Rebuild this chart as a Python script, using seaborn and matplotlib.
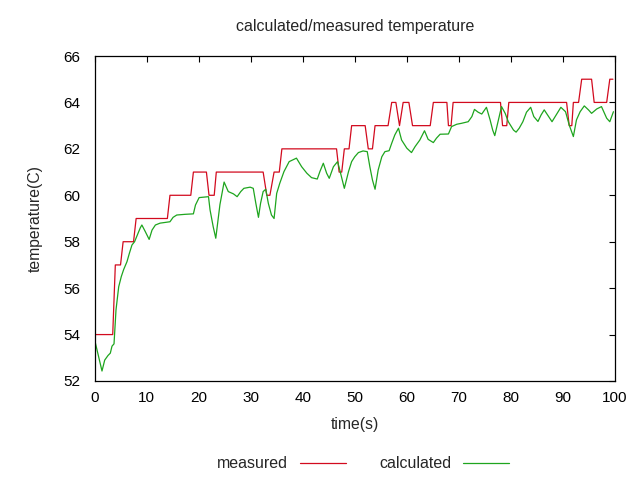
import matplotlib
matplotlib.use("Agg")
import matplotlib.pyplot as plt
import seaborn as sns
import pandas as pd
from matplotlib.lines import Line2D

# measured temperature (vertices of the stepped trace)
measured_time = [0, 3.5, 4.0, 5.0, 5.5, 7.5, 8.0, 14.0, 14.5, 18.5, 19.0, 21.5, 22.0, 23.0, 23.4,
                 32.4, 33.1, 33.7, 34.5, 35.5, 36.0, 46.5, 47.0, 47.5, 48.0, 48.9, 49.4, 52.0,
                 52.6, 53.4, 53.9, 56.4, 57.1, 57.9, 58.6, 59.3, 60.4, 61.1, 64.5, 65.1, 67.7,
                 68.0, 68.5, 68.9, 78.0, 78.4, 79.2, 79.6, 90.7, 91.2, 91.7, 92.0, 93.0, 93.6,
                 95.5, 96.0, 98.4, 99.0, 99.6]
measured_temp = [54, 54, 57, 57, 58, 58, 59, 59, 60, 60, 61, 61, 60, 60, 61,
                 61, 60, 60, 61, 61, 62, 62, 61, 61, 62, 62, 63, 63,
                 62, 62, 63, 63, 64, 64, 63, 64, 64, 63, 63, 64, 64,
                 63, 63, 64, 64, 63, 63, 64, 64, 63, 63, 64, 64, 65,
                 65, 64, 64, 65, 65]

# calculated temperature
calc_time = [0, 1.44, 1.96, 2.6, 3.04, 3.36, 3.75, 4.13, 4.65, 5.15, 5.6, 6.24, 6.7, 7.2, 7.7,
             8.36, 8.8, 9.1, 9.77, 10.5, 11.05, 11.7, 12.6, 14.5, 15.1, 15.8, 17.4, 19.0, 19.4,
             20.1, 21.9, 22.2, 22.8, 23.3, 24.1, 24.9, 25.7, 26.7, 27.4, 28.1, 28.7, 29.9, 30.5,
             31.0, 31.5, 31.9, 32.4, 32.9, 33.4, 34.0, 34.5, 35.0, 35.6, 36.4, 37.4, 38.8, 39.8,
             40.8, 41.7, 42.8, 43.3, 43.96, 44.6, 45.1, 45.9, 46.7, 47.2, 48.0, 48.8, 49.4, 50.0,
             50.7, 51.6, 52.4, 52.9, 53.4, 53.9, 54.5, 55.2, 55.8, 56.6, 57.1, 57.7, 58.4, 59.0,
             60.0, 60.9, 61.6, 62.5, 63.4, 64.1, 65.1, 65.7, 66.4, 68.0, 68.6, 69.6, 70.5, 71.8,
             72.5, 73.0, 73.7, 74.4, 75.3, 76.0, 76.5, 76.9, 77.6, 78.2, 78.9, 79.5, 80.5, 81.0,
             81.6, 82.3, 83.0, 83.8, 84.4, 85.2, 85.8, 86.4, 87.9, 89.6, 90.5, 91.2, 92.0, 92.6,
             93.3, 94.1, 94.9, 95.5, 96.5, 97.4, 98.4, 99.0, 99.7]
calc_temp = [53.8, 52.43, 52.9, 53.1, 53.2, 53.5, 53.6, 55.06, 56.06, 56.5, 56.8, 57.14, 57.5, 57.86, 58.0,
             58.36, 58.6, 58.72, 58.43, 58.1, 58.5, 58.72, 58.8, 58.86, 59.05, 59.15, 59.18, 59.2, 59.58,
             59.9, 59.94, 59.37, 58.65, 58.15, 59.6, 60.57, 60.16, 60.06, 59.94, 60.16, 60.3, 60.35, 60.3,
             59.65, 59.05, 59.65, 60.16, 60.26, 59.65, 59.15, 59.0, 60.08, 60.52, 61.02, 61.45, 61.6, 61.23,
             60.95, 60.76, 60.70, 61.02, 61.38, 60.95, 60.73, 61.23, 61.45, 61.02, 60.3, 61.02, 61.45, 61.66,
             61.84, 61.91, 61.88, 61.23, 60.66, 60.26, 61.09, 61.66, 61.88, 61.92, 62.24, 62.6, 62.89, 62.38,
             62.03, 61.84, 62.1, 62.38, 62.78, 62.41, 62.27, 62.46, 62.63, 62.64, 62.96, 63.06, 63.1, 63.17,
             63.39, 63.7, 63.58, 63.5, 63.79, 63.25, 62.81, 62.57, 63.25, 63.82, 63.53, 63.17, 62.81, 62.72,
             62.89, 63.17, 63.58, 63.79, 63.39, 63.18, 63.46, 63.68, 63.17, 63.79, 63.6, 63.03, 62.53, 63.25,
             63.6, 63.85, 63.68, 63.53, 63.72, 63.82, 63.32, 63.17, 63.6]

x_ticks = [0, 10, 20, 30, 40, 50, 60, 70, 80, 90, 100]
y_ticks = [52, 54, 56, 58, 60, 62, 64, 66]

title = "calculated/measured temperature"
x_label = "time(s)"
y_label = "temperature(C)"
series_names = ["measured", "calculated"]
colors = ["#d20a1e", "#1ea51e"]

sns.set_style("white")
plt.rcParams["font.family"] = ["Liberation Sans", "DejaVu Sans"]
plt.rcParams["font.size"] = 11

df_m = pd.DataFrame({"time": measured_time, "temp": measured_temp})
df_c = pd.DataFrame({"time": calc_time, "temp": calc_temp})

fig = plt.figure(figsize=(6.4, 4.8), dpi=100)
ax = fig.add_axes([94.5 / 640, 1 - 381 / 480, (615 - 94.5) / 640, (381 - 56) / 480])

sns.lineplot(data=df_m, x="time", y="temp", ax=ax, color=colors[0], lw=0.9,
             estimator=None, sort=False)
sns.lineplot(data=df_c, x="time", y="temp", ax=ax, color=colors[1], lw=0.9,
             estimator=None, sort=False)

ax.set_xlim(0, 100)
ax.set_ylim(52, 66)
ax.set_xticks(x_ticks)
ax.set_yticks(y_ticks)
ax.tick_params(direction="in", length=4, width=0.8, top=True, right=True,
               labelsize=11, colors="black")
ax.tick_params(axis="x", pad=7)
ax.tick_params(axis="y", pad=10)
for s in ax.spines.values():
    s.set_visible(True)
    s.set_color("black")
    s.set_linewidth(0.9)
ax.set_xlabel(x_label, fontsize=11.3, labelpad=9)
ax.set_ylabel(y_label, fontsize=11.3, labelpad=15)
ax.grid(False)

fig.text(0.5 * (94.5 + 615) / 640, 1 - 27 / 480, title, ha="center", va="center", fontsize=11.5)

handles = [Line2D([], [], color=c, lw=0.9) for c in colors]
fig.legend(handles, series_names, loc="center", bbox_to_anchor=(363 / 640, 1 - 464 / 480),
           ncol=2, frameon=False, markerfirst=False, handlelength=2.85, columnspacing=2.1,
           handletextpad=0.75, fontsize=11.5)

fig.savefig("out.png", dpi=100, facecolor="white")
